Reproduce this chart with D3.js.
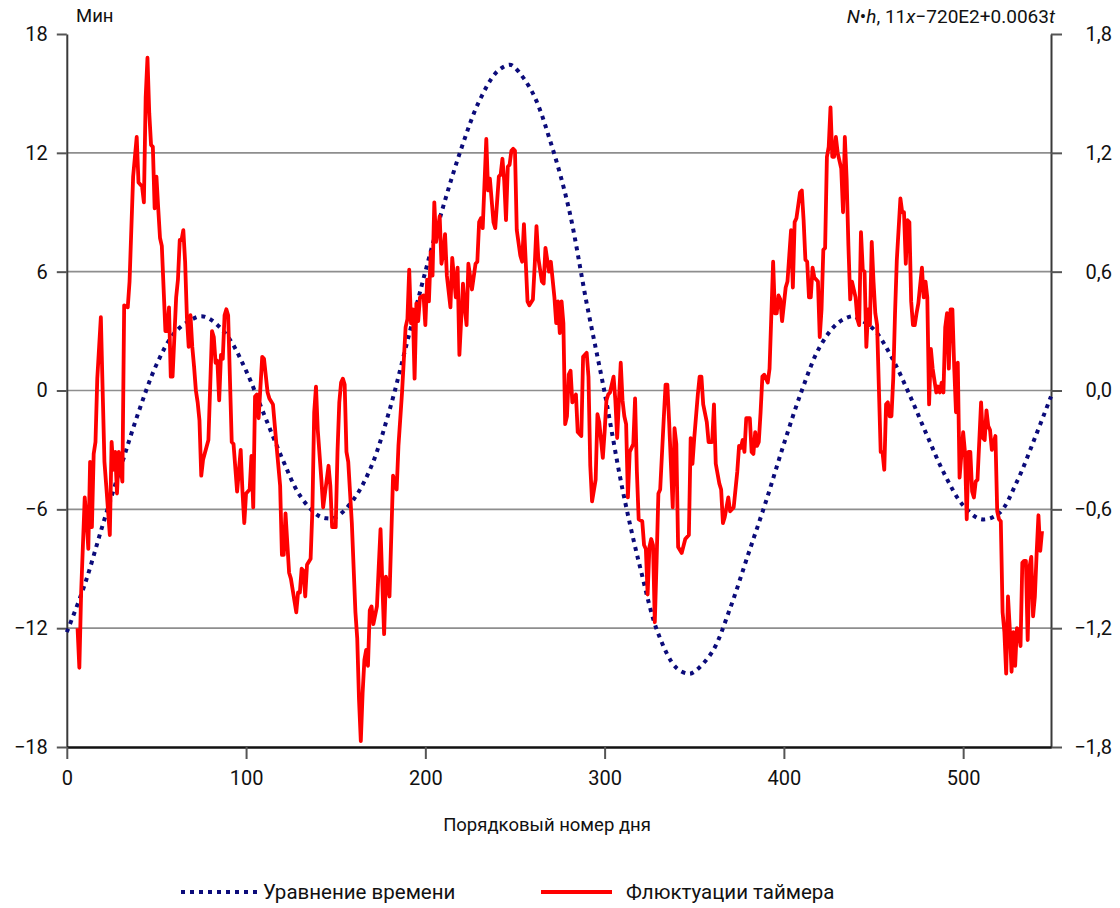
<!DOCTYPE html>
<html lang="ru">
<head>
<meta charset="utf-8">
<script src="https://cdn.jsdelivr.net/npm/d3@7"></script>
<style>
  html, body { margin: 0; padding: 0; background: #fff; }
  svg { display: block; font-family: Roboto, "Noto Sans", sans-serif; }
</style>
</head>
<body>
<svg id="chart" width="1120" height="908"></svg>
<script>
// Equation of time, minutes, by day number (left axis)
const equationOfTime = [
  [0,-12.2],[10,-9.8],[20,-6.8],[30,-3.9],[40,-1.1],[50,1.3],[60,2.9],[70,3.6],[75,3.75],[80,3.6],
  [90,2.7],[100,1.0],[110,-1.2],[120,-3.4],[130,-5.3],[140,-6.3],[145,-6.45],[150,-6.4],[160,-5.5],
  [170,-3.8],[180,-1.0],[190,2.5],[200,6.0],[210,9.3],[220,12.2],[230,14.6],[240,16.1],[247,16.45],
  [250,16.3],[260,15.0],[270,12.5],[280,9.2],[290,4.4],[300,-0.1],[310,-5.0],[320,-9.0],[330,-12.3],
  [340,-14.0],[347,-14.3],[350,-14.2],[360,-13.2],[370,-11.0],[380,-8.3],[390,-5.6],[400,-2.7],
  [410,0.0],[420,2.2],[430,3.4],[438,3.75],[440,3.7],[450,3.1],[460,1.7],[470,-0.2],[480,-2.3],
  [490,-4.3],[500,-5.8],[510,-6.5],[520,-6.2],[530,-4.6],[540,-2.4],[549,-0.3]
];

// Timer fluctuations by day number (right axis)
const timerFluctuation = [
  [6,-1.20],[7,-1.40],[8,-1.02],[10,-0.54],[11,-0.65],[12,-0.80],[13,-0.36],[14,-0.69],[15,-0.32],
  [16,-0.26],[17,0.06],[19,0.37],[20,0.00],[21,-0.36],[22,-0.48],[24,-0.73],[25,-0.26],[26,-0.40],
  [27,-0.31],[28,-0.52],[29,-0.31],[31,-0.46],[32,0.43],[34,0.42],[35,0.55],[37,1.08],[39,1.28],
  [40,1.05],[42,1.03],[43,0.95],[44,1.48],[45,1.68],[46,1.40],[47,1.24],[48,1.23],[49,0.92],
  [50,1.08],[51,0.92],[52,0.77],[53,0.73],[55,0.30],[56,0.30],[57,0.42],[58,0.07],[59,0.07],
  [61,0.47],[62,0.56],[63,0.76],[64,0.76],[65,0.81],[66,0.65],[67,0.37],[68,0.22],[69,0.38],
  [70,0.22],[71,0.12],[72,0.00],[73,-0.06],[74,-0.15],[75,-0.43],[76,-0.35],[79,-0.25],[81,0.30],
  [82,0.27],[83,0.14],[84,0.15],[85,-0.05],[86,0.18],[87,0.16],[88,0.38],[89,0.41],[90,0.38],
  [92,-0.26],[93,-0.27],[95,-0.51],[97,-0.30],[98,-0.51],[99,-0.67],[100,-0.52],[102,-0.50],
  [103,-0.33],[104,-0.59],[105,-0.03],[106,-0.02],[107,-0.14],[109,0.17],[110,0.16],[112,-0.01],
  [113,-0.04],[115,-0.07],[117,-0.28],[119,-0.48],[120,-0.83],[121,-0.83],[122,-0.62],[124,-0.92],
  [125,-0.95],[128,-1.12],[129,-1.02],[130,-1.02],[131,-0.90],[132,-0.91],[133,-1.04],[134,-0.88],
  [136,-0.85],[137,-0.60],[138,-0.11],[139,0.02],[140,-0.20],[142,-0.45],[143,-0.59],[145,-0.45],
  [146,-0.38],[147,-0.48],[148,-0.69],[150,-0.69],[151,-0.31],[152,-0.06],[153,0.04],[154,0.06],
  [155,0.03],[156,-0.31],[157,-0.36],[159,-0.67],[161,-1.12],[162,-1.25],[163,-1.56],[164,-1.77],
  [165,-1.53],[166,-1.36],[167,-1.31],[168,-1.39],[169,-1.11],[170,-1.09],[171,-1.18],[173,-1.09],
  [174,-0.89],[175,-0.70],[176,-0.97],[177,-1.23],[178,-0.94],[180,-1.04],[182,-0.43],[184,-0.50],
  [185,-0.28],[187,-0.01],[189,0.32],[190,0.36],[191,0.61],[192,0.34],[193,0.41],[194,0.06],
  [195,0.44],[196,0.35],[197,0.47],[199,0.48],[200,0.33],[201,0.56],[202,0.45],[203,0.70],
  [204,0.58],[205,0.95],[206,0.75],[208,0.88],[209,0.64],[210,0.69],[211,0.79],[212,0.58],
  [214,0.42],[215,0.67],[217,0.47],[218,0.62],[219,0.18],[221,0.54],[222,0.42],[223,0.33],
  [224,0.64],[226,0.51],[228,0.64],[229,0.65],[230,0.85],[231,0.87],[232,0.82],[234,1.27],
  [235,1.01],[236,1.07],[238,0.85],[239,0.82],[241,1.08],[242,1.09],[243,1.17],[244,1.06],
  [245,0.86],[246,1.13],[247,1.14],[248,1.21],[249,1.22],[250,1.21],[251,0.81],[253,0.68],
  [254,0.65],[255,0.84],[256,0.65],[257,0.45],[258,0.43],[260,0.46],[261,0.63],[262,0.83],
  [263,0.67],[265,0.55],[266,0.54],[267,0.72],[268,0.66],[269,0.60],[270,0.65],[272,0.47],
  [273,0.34],[274,0.45],[275,0.29],[276,0.45],[277,0.34],[278,-0.17],[279,-0.13],[280,0.08],
  [281,0.10],[282,-0.06],[284,-0.02],[285,-0.21],[287,-0.23],[288,0.17],[290,0.19],[291,0.07],
  [292,-0.38],[293,-0.56],[295,-0.45],[296,-0.12],[297,-0.16],[299,-0.34],[300,-0.21],[301,-0.05],
  [302,-0.02],[303,-0.01],[305,0.07],[306,-0.05],[307,-0.24],[308,-0.05],[309,0.14],[310,-0.05],
  [311,-0.13],[312,-0.17],[313,-0.54],[314,-0.31],[316,-0.27],[317,-0.04],[318,-0.41],[319,-0.65],
  [321,-0.66],[322,-0.78],[323,-0.80],[324,-1.03],[325,-0.79],[326,-0.75],[327,-0.78],[328,-1.17],
  [329,-0.86],[330,-0.52],[331,-0.50],[333,-0.14],[334,0.03],[335,0.03],[336,-0.16],[338,-0.59],
  [339,-0.19],[340,-0.27],[341,-0.79],[343,-0.82],[345,-0.75],[347,-0.73],[348,-0.24],[349,-0.37],
  [350,-0.24],[352,-0.02],[353,0.07],[354,0.07],[355,-0.07],[357,-0.16],[358,-0.26],[360,-0.26],
  [361,-0.07],[362,-0.37],[364,-0.47],[365,-0.50],[366,-0.67],[367,-0.64],[369,-0.54],[370,-0.61],
  [372,-0.59],[374,-0.41],[375,-0.28],[376,-0.29],[377,-0.25],[378,-0.31],[379,-0.14],[381,-0.14],
  [382,-0.31],[383,-0.32],[384,-0.21],[385,-0.28],[386,-0.26],[387,-0.11],[388,0.07],[389,0.08],
  [391,0.04],[392,0.11],[394,0.65],[395,0.39],[396,0.39],[397,0.48],[398,0.46],[399,0.35],
  [401,0.52],[402,0.55],[404,0.81],[405,0.52],[406,0.85],[407,0.87],[409,1.00],[410,1.01],
  [411,0.86],[412,0.66],[413,0.65],[414,0.47],[415,0.47],[416,0.62],[417,0.57],[418,0.56],
  [419,0.55],[420,0.27],[421,0.41],[422,0.71],[423,0.72],[424,1.18],[425,1.23],[426,1.43],
  [427,1.18],[428,1.18],[429,1.28],[430,1.20],[432,1.12],[433,0.90],[434,1.28],[435,1.07],
  [436,0.73],[437,0.46],[438,0.55],[440,0.47],[441,0.36],[442,0.33],[443,0.80],[444,0.61],
  [445,0.60],[446,0.22],[447,0.41],[448,0.33],[449,0.75],[450,0.55],[451,0.39],[452,0.33],
  [454,-0.31],[455,-0.31],[456,-0.40],[457,-0.07],[458,-0.06],[459,-0.13],[460,-0.13],[461,0.06],
  [462,0.39],[463,0.66],[465,0.97],[466,0.90],[467,0.90],[468,0.64],[469,0.86],[470,0.85],
  [471,0.45],[472,0.33],[473,0.33],[474,0.39],[475,0.44],[477,0.62],[478,0.47],[479,0.55],
  [480,0.47],[481,-0.07],[482,0.21],[483,0.11],[485,-0.01],[486,0.02],[487,-0.01],[488,0.04],
  [489,-0.01],[490,0.32],[491,0.39],[492,0.11],[493,0.41],[494,0.41],[495,0.12],[496,-0.11],
  [497,0.14],[498,-0.44],[500,-0.21],[501,-0.31],[502,-0.65],[503,-0.31],[504,-0.31],[505,-0.51],
  [506,-0.54],[507,-0.46],[508,-0.45],[510,-0.06],[511,-0.24],[512,-0.25],[513,-0.10],[514,-0.18],
  [515,-0.20],[516,-0.30],[518,-0.23],[519,-0.61],[520,-0.65],[521,-0.66],[522,-1.12],[523,-1.22],
  [524,-1.43],[525,-1.04],[526,-1.20],[527,-1.42],[528,-1.22],[529,-1.39],[530,-1.20],[531,-1.21],
  [532,-1.29],[533,-0.87],[534,-0.86],[535,-0.86],[536,-1.26],[537,-0.89],[538,-0.84],[539,-1.14],
  [540,-1.04],[541,-0.82],[542,-0.63],[543,-0.81],[544,-0.71]
];

// Tick values
const dayTicks = [0, 100, 200, 300, 400, 500];
const minuteTicks = [-18, -12, -6, 0, 6, 12, 18];
const timerTicks = [-1.8, -1.2, -0.6, 0, 0.6, 1.2, 1.8];
const gridMinutes = [-12, -6, 0, 6, 12];

// Labels
const leftUnit = "Мин";
const xTitle = "Порядковый номер дня";
const legendItems = ["Уравнение времени", "Флюктуации таймера"];

const svg = d3.select("#chart");
const plot = { left: 66.8, right: 1051, top: 34, bottom: 747 };

const x = d3.scaleLinear().domain([0, 549]).range([plot.left, plot.right]);
const yMin = d3.scaleLinear().domain([-18, 18]).range([plot.bottom, plot.top]);
const yTimer = d3.scaleLinear().domain([-1.8, 1.8]).range([plot.bottom, plot.top]);

const ruLocale = d3.formatLocale({
  decimal: ",", thousands: "\u00a0", grouping: [3], currency: ["", ""], minus: "\u2212"
});
const fmtTimer = ruLocale.format(".1f");
const fmtMin = ruLocale.format("d");

// Horizontal grid
svg.append("g")
  .selectAll("line")
  .data(gridMinutes)
  .join("line")
  .attr("x1", plot.left).attr("x2", plot.right)
  .attr("y1", d => yMin(d)).attr("y2", d => yMin(d))
  .attr("stroke", "#8e8e8e")
  .attr("stroke-width", 1.6);

// Left axis
const gLeft = svg.append("g")
  .attr("transform", `translate(${plot.left},0)`)
  .call(d3.axisLeft(yMin).tickValues(minuteTicks).tickSize(10).tickSizeOuter(0)
    .tickPadding(9).tickFormat(fmtMin));

// Right axis
const gRight = svg.append("g")
  .attr("transform", `translate(${plot.right},0)`)
  .call(d3.axisRight(yTimer).tickValues(timerTicks).tickSize(11).tickSizeOuter(0)
    .tickPadding(20).tickFormat(fmtTimer));
gRight.selectAll(".tick text").attr("text-anchor", "end").attr("x", 61);

// Bottom axis
const gBottom = svg.append("g")
  .attr("transform", `translate(0,${plot.bottom})`)
  .call(d3.axisBottom(x).tickValues(dayTicks).tickSize(12).tickSizeOuter(0)
    .tickPadding(12).tickFormat(d3.format("d")));

[gLeft, gRight, gBottom].forEach(g => {
  g.selectAll(".tick line").attr("stroke", "#555").attr("stroke-width", 2);
  g.selectAll(".tick text")
    .attr("fill", "#111")
    .style("font-size", "20px")
    .style("font-family", "Roboto, 'Noto Sans', sans-serif");
});
gLeft.select(".domain").attr("stroke", "#3a3a3a").attr("stroke-width", 2);
gRight.select(".domain").attr("stroke", "#3a3a3a").attr("stroke-width", 2);
gBottom.select(".domain").attr("stroke", "#111").attr("stroke-width", 2.4);

// Equation of time: dotted navy curve
const eotLine = d3.line()
  .x(d => x(d[0]))
  .y(d => yMin(d[1]))
  .curve(d3.curveCatmullRom);

svg.append("path")
  .datum(equationOfTime)
  .attr("d", eotLine)
  .attr("fill", "none")
  .attr("stroke", "#0b0b7a")
  .attr("stroke-width", 4)
  .attr("stroke-dasharray", "4 5");

// Timer fluctuations: red polyline
const timerLine = d3.line()
  .x(d => x(d[0]))
  .y(d => yTimer(d[1]));

svg.append("path")
  .datum(timerFluctuation)
  .attr("d", timerLine)
  .attr("fill", "none")
  .attr("stroke", "#ff0000")
  .attr("stroke-width", 3.8)
  .attr("stroke-linejoin", "round");

// Units and titles
svg.append("text")
  .attr("x", 76).attr("y", 22)
  .attr("fill", "#111")
  .style("font-size", "18.5px")
  .text(leftUnit);

const rightUnit = svg.append("text")
  .attr("x", 1055).attr("y", 23)
  .attr("text-anchor", "end")
  .attr("fill", "#111")
  .style("font-size", "19px");
rightUnit.append("tspan").attr("font-style", "italic").text("N");
rightUnit.append("tspan").text("\u2022");
rightUnit.append("tspan").attr("font-style", "italic").text("h");
rightUnit.append("tspan").text(", 11");
rightUnit.append("tspan").attr("font-style", "italic").text("x");
rightUnit.append("tspan").text("\u2212720E2+0.0063");
rightUnit.append("tspan").attr("font-style", "italic").text("t");

svg.append("text")
  .attr("x", 547).attr("y", 831)
  .attr("text-anchor", "middle")
  .attr("fill", "#111")
  .style("font-size", "18.5px")
  .text(xTitle);

// Legend
const legend = svg.append("g");
legend.append("line")
  .attr("x1", 181).attr("x2", 258).attr("y1", 892).attr("y2", 892)
  .attr("stroke", "#0b0b7a").attr("stroke-width", 4).attr("stroke-dasharray", "4 5");
legend.append("text")
  .attr("x", 263).attr("y", 899)
  .attr("fill", "#111")
  .style("font-size", "20.5px")
  .text(legendItems[0]);
legend.append("line")
  .attr("x1", 541).attr("x2", 612).attr("y1", 892).attr("y2", 892)
  .attr("stroke", "#ff0000").attr("stroke-width", 4);
legend.append("text")
  .attr("x", 626).attr("y", 899)
  .attr("fill", "#111")
  .style("font-size", "20.5px")
  .text(legendItems[1]);
</script>
</body>
</html>
